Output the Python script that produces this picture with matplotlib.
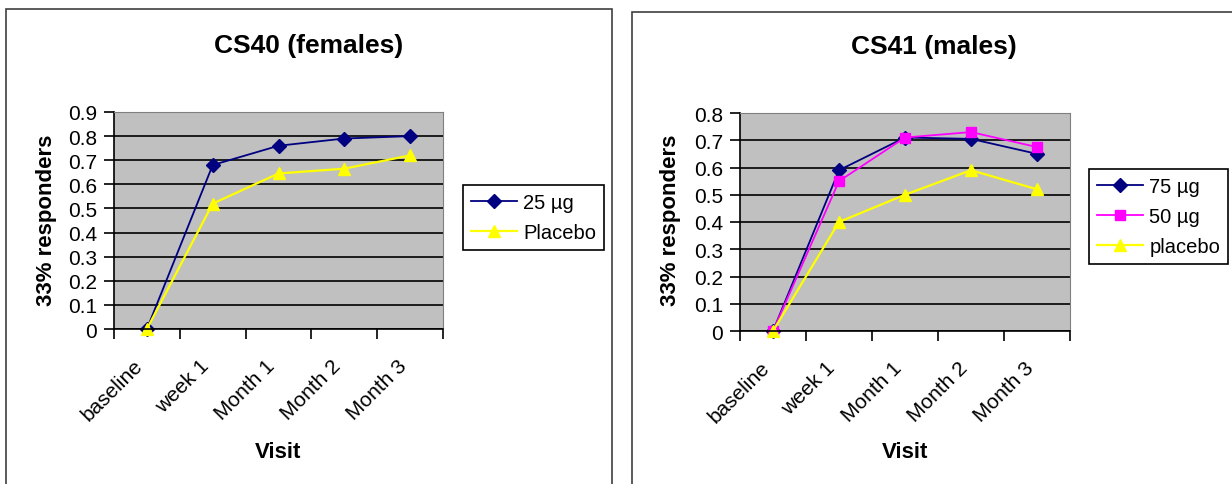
import matplotlib.pyplot as plt
from matplotlib.patches import Rectangle
from matplotlib.ticker import FuncFormatter, MultipleLocator
from matplotlib.transforms import ScaledTranslation

plt.rcParams['font.family'] = ['Liberation Sans', 'DejaVu Sans']

visits = ['baseline', 'week 1', 'Month 1', 'Month 2', 'Month 3']

# CS40 (females)
cs40_25ug = [0.0, 0.68, 0.76, 0.79, 0.80]
cs40_placebo = [0.0, 0.52, 0.645, 0.665, 0.72]

# CS41 (males)
cs41_75ug = [0.0, 0.59, 0.71, 0.705, 0.65]
cs41_50ug = [0.0, 0.55, 0.71, 0.73, 0.675]
cs41_placebo = [0.0, 0.40, 0.50, 0.59, 0.52]

W, H = 1232, 485
fig = plt.figure(figsize=(W / 100, H / 100), dpi=100)


def px_axes(left, top, right, bottom):
    return fig.add_axes([left / W, 1 - bottom / H, (right - left) / W, (bottom - top) / H])


def frame(left, top, right, bottom):
    fig.patches.append(Rectangle((left / W, 1 - bottom / H), (right - left) / W, (bottom - top) / H,
                                 transform=fig.transFigure, fill=False, ec='#404040', lw=1.2))


def style(ax, ymax, ylab_x, visit_y):
    ax.set_facecolor('#C0C0C0')
    ax.set_xlim(-0.5, 4.5)
    ax.set_ylim(0, ymax)
    ax.yaxis.set_major_locator(MultipleLocator(0.1))
    ax.yaxis.set_major_formatter(FuncFormatter(lambda v, p: f'{round(v, 1):g}'))
    ax.grid(axis='y', color='black', lw=1.2)
    ax.set_axisbelow(True)
    # category ticks sit between the points
    ax.set_xticks([i - 0.5 for i in range(6)])
    ax.set_xticklabels([])
    ax.set_xticks(range(5), minor=True)
    labels = ax.set_xticklabels(visits, minor=True, rotation=45, ha='right', va='top', fontsize=15)
    shift = ScaledTranslation(-6 / 72, 0, fig.dpi_scale_trans)
    for t in labels:
        t.set_transform(t.get_transform() + shift)
    ax.tick_params(axis='x', which='minor', length=0, pad=19)
    ax.tick_params(axis='x', which='major', length=7, width=1.2, color='black')
    ax.tick_params(axis='y', length=7, width=1.2, labelsize=15, pad=5)
    for s in ['top', 'right']:
        ax.spines[s].set_color('#808080')
    for s in ['left', 'bottom']:
        ax.spines[s].set_color('black')
        ax.spines[s].set_linewidth(1.2)
    ax.set_ylabel('33% responders', fontsize=16, fontweight='bold', va='center')
    ax.set_xlabel('Visit', fontsize=16, fontweight='bold', va='center')
    pos = ax.get_position()
    ax.yaxis.set_label_coords(ylab_x / W, 1 - 220 / H, transform=fig.transFigure)
    ax.xaxis.set_label_coords(pos.x0 + pos.width / 2, 1 - visit_y / H, transform=fig.transFigure)


frame(6, 10, 612, 495)
frame(632, 13, 1250, 495)

x = range(len(visits))

ax1 = px_axes(114, 113, 443, 330)
style(ax1, 0.9, 47, 453)
ax1.plot(x, cs40_25ug, color='#000080', marker='D', ms=7, lw=1.3, label='25 µg', clip_on=False)
ax1.plot(x, cs40_placebo, color='#FFFF00', marker='^', ms=9, lw=1.6, label='Placebo', clip_on=False)
fig.text(309 / W, 1 - 46 / H, 'CS40 (females)', ha='center', va='center', fontsize=19, fontweight='bold')
ax1.legend(loc='upper left', bbox_to_anchor=(463 / W, 1 - 186 / H), bbox_transform=fig.transFigure,
           fontsize=14.5, fancybox=False, edgecolor='black', framealpha=1, handlelength=2.3,
           borderaxespad=0, handletextpad=0.3, borderpad=0.4, labelspacing=0.55).get_frame().set_linewidth(1.2)

ax2 = px_axes(740, 114, 1070, 332)
style(ax2, 0.8, 671, 453)
ax2.plot(x, cs41_75ug, color='#000080', marker='D', ms=7, lw=1.3, label='75 µg', clip_on=False)
ax2.plot(x, cs41_50ug, color='#FF00FF', marker='s', ms=7, lw=1.3, label='50 µg', clip_on=False)
ax2.plot(x, cs41_placebo, color='#FFFF00', marker='^', ms=9, lw=1.6, label='placebo', clip_on=False)
fig.text(934 / W, 1 - 47 / H, 'CS41 (males)', ha='center', va='center', fontsize=19, fontweight='bold')
ax2.legend(loc='upper left', bbox_to_anchor=(1089 / W, 1 - 170 / H), bbox_transform=fig.transFigure,
           fontsize=14.5, fancybox=False, edgecolor='black', framealpha=1, handlelength=2.3,
           borderaxespad=0, handletextpad=0.3, borderpad=0.4, labelspacing=0.55).get_frame().set_linewidth(1.2)

fig.savefig('out.png', dpi=100)
